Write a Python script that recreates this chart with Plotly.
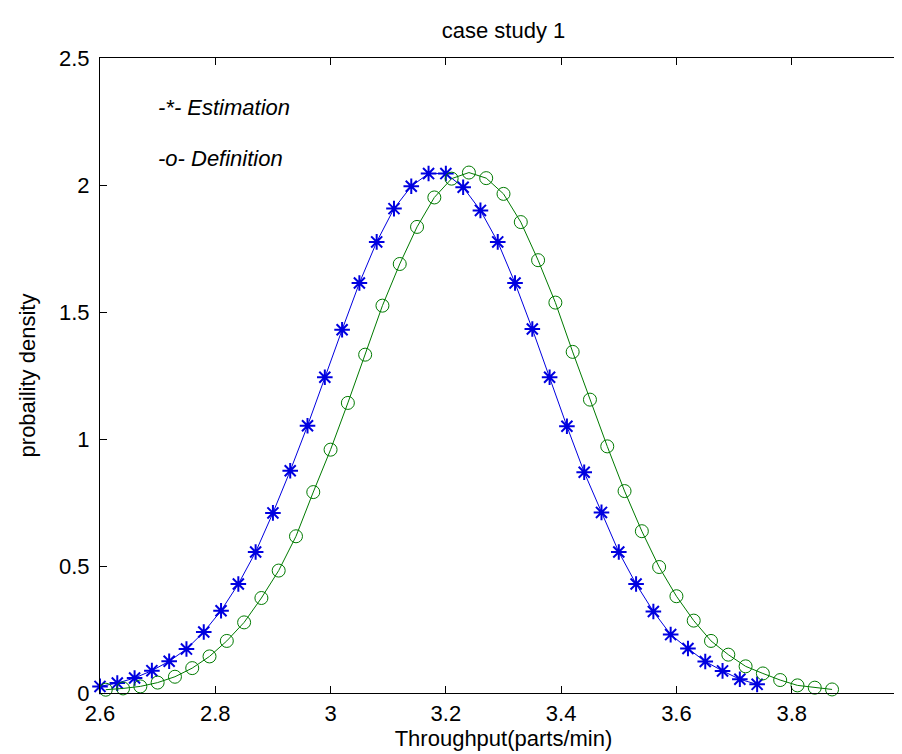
import plotly.graph_objects as go

# Estimation series (blue stars)
est_x = [2.60, 2.63, 2.66, 2.69, 2.72, 2.75, 2.78, 2.81, 2.84, 2.87, 2.90, 2.93, 2.96,
         2.99, 3.02, 3.05, 3.08, 3.11, 3.14, 3.17, 3.20, 3.23, 3.26, 3.29, 3.32, 3.35,
         3.38, 3.41, 3.44, 3.47, 3.50, 3.53, 3.56, 3.59, 3.62, 3.65, 3.68, 3.71, 3.74]
est_y = [0.026, 0.039, 0.059, 0.088, 0.125, 0.173, 0.240, 0.324, 0.429, 0.555, 0.709, 0.875, 1.052,
         1.243, 1.430, 1.614, 1.776, 1.907, 1.995, 2.045, 2.045, 1.991, 1.900, 1.776, 1.614, 1.433,
         1.243, 1.050, 0.869, 0.711, 0.555, 0.429, 0.321, 0.230, 0.175, 0.124, 0.087, 0.054, 0.034]

# Definition series (green circles)
def_x = [2.61, 2.64, 2.67, 2.70, 2.73, 2.76, 2.79, 2.82, 2.85, 2.88, 2.91, 2.94, 2.97, 3.00,
         3.03, 3.06, 3.09, 3.12, 3.15, 3.18, 3.21, 3.24, 3.27, 3.30, 3.33, 3.36, 3.39, 3.42,
         3.45, 3.48, 3.51, 3.54, 3.57, 3.60, 3.63, 3.66, 3.69, 3.72, 3.75, 3.78, 3.81, 3.84, 3.87]
def_y = [0.013, 0.018, 0.026, 0.041, 0.064, 0.098, 0.144, 0.205, 0.278, 0.374, 0.482, 0.617, 0.791, 0.958,
         1.142, 1.332, 1.525, 1.689, 1.835, 1.951, 2.025, 2.049, 2.027, 1.965, 1.854, 1.704, 1.537, 1.343,
         1.155, 0.971, 0.795, 0.637, 0.496, 0.381, 0.285, 0.205, 0.151, 0.105, 0.077, 0.051, 0.030, 0.021, 0.014]

x_ticks = [2.6, 2.8, 3.0, 3.2, 3.4, 3.6, 3.8, 4.0]
x_tick_labels = ["2.6", "2.8", "3", "3.2", "3.4", "3.6", "3.8", "4"]
y_ticks = [0, 0.5, 1, 1.5, 2, 2.5]
y_tick_labels = ["0", "0.5", "1", "1.5", "2", "2.5"]

FONT = "Liberation Sans, Arial, sans-serif"

fig = go.Figure()
fig.add_trace(go.Scatter(
    x=est_x, y=est_y, mode="lines+markers", name="Estimation", cliponaxis=False,
    line=dict(color="#0000e0", width=1),
    marker=dict(symbol="asterisk-open", size=13, line=dict(color="#0000e6", width=2)),
))
fig.add_trace(go.Scatter(
    x=def_x, y=def_y, mode="lines+markers", name="Definition", cliponaxis=False,
    line=dict(color="#007a00", width=1),
    marker=dict(symbol="circle-open", size=13, color="#007a00", line=dict(color="#007a00", width=1)),
))

axis_common = dict(
    showline=True, linecolor="black", linewidth=1, mirror="ticks",
    ticks="inside", ticklen=7, tickwidth=1, tickcolor="black",
    showgrid=False, zeroline=False,
    tickfont=dict(family=FONT, size=22, color="black"),
)

fig.update_xaxes(
    range=[2.6, 4.0], tickvals=x_ticks, ticktext=x_tick_labels,
    title=dict(text="Throughput(parts/min)", font=dict(family=FONT, size=22, color="black"), standoff=5),
    ticklabelstandoff=1,
    **axis_common,
)
fig.update_yaxes(
    range=[0, 2.5], tickvals=y_ticks, ticktext=y_tick_labels,
    title=dict(text="probaility density", font=dict(family=FONT, size=22, color="black"), standoff=17),
    ticklabelstandoff=5,
    **axis_common,
)

fig.add_annotation(x=2.697, y=2.307, xref="x", yref="y", text="<i>-*- Estimation</i>",
                   showarrow=False, xanchor="left", yanchor="middle",
                   font=dict(family=FONT, size=22, color="black"))
fig.add_annotation(x=2.697, y=2.106, xref="x", yref="y", text="<i>-o- Definition</i>",
                   showarrow=False, xanchor="left", yanchor="middle",
                   font=dict(family=FONT, size=22, color="black"))

fig.update_layout(
    width=902, height=754,
    margin=dict(l=92, r=3, t=50, b=69),
    paper_bgcolor="white", plot_bgcolor="white",
    showlegend=False,
    title=dict(text="case study 1", x=0.5, xanchor="center", xref="paper",
               y=1 - 22 / 754, yref="container", yanchor="middle",
               font=dict(family=FONT, size=22, color="black")),
)

fig.write_html("out.html")
